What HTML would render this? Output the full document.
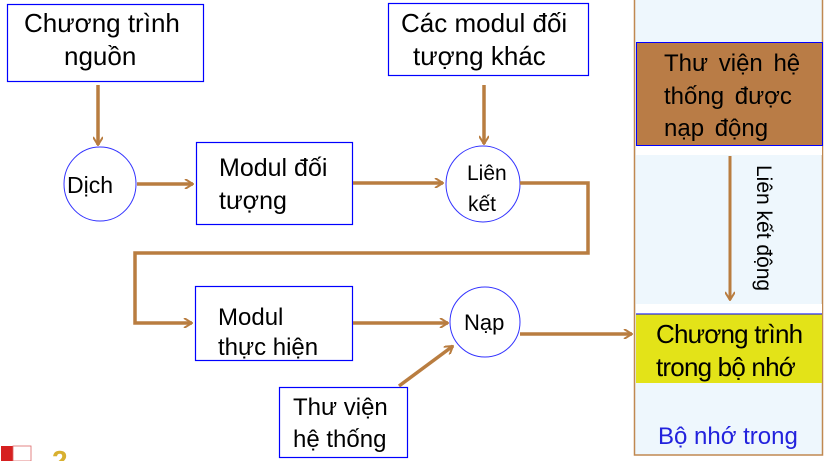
<!DOCTYPE html>
<html><head><meta charset="utf-8"><style>
html,body{margin:0;padding:0;background:#fff;}
svg{display:block;font-family:"Liberation Sans",sans-serif;}
</style></head><body>
<svg width="837" height="461" viewBox="0 0 837 461" xmlns="http://www.w3.org/2000/svg">
<defs>
<marker id="a" viewBox="0 0 10 10" refX="9" refY="5" markerWidth="10" markerHeight="10" markerUnits="userSpaceOnUse" orient="auto">
<path d="M1,0 L9,5 L1,10" fill="none" stroke="#b97d40" stroke-width="2"/>
</marker>
</defs>
<!-- right panel -->
<rect x="634.5" y="-2" width="188" height="457" fill="#eef7fd" stroke="#c08850" stroke-width="1.5"/>
<rect x="636" y="146" width="186" height="9" fill="#fff"/>
<rect x="636" y="304" width="186" height="9" fill="#fff"/>
<rect x="636.5" y="42.5" width="186" height="103" fill="#b97c46" stroke="#0000ff" stroke-width="1"/>
<text font-size="24" fill="#000" word-spacing="4"><tspan x="664" y="71">Thư viện hệ</tspan><tspan x="664" y="104">thống được</tspan><tspan x="664" y="136">nạp động</tspan></text>
<line x1="730" y1="156" x2="730" y2="300" stroke="#b97d40" stroke-width="3" marker-end="url(#a)"/>
<text font-size="21" transform="translate(757,165) rotate(90)">Liên kết động</text>
<rect x="636" y="314" width="186" height="69" fill="#e3e318"/>
<line x1="636" y1="314" x2="822" y2="314" stroke="#0000ff" stroke-width="1"/>
<text font-size="26" letter-spacing="-0.8"><tspan x="656" y="343">Chương trình</tspan><tspan x="656" y="376">trong bộ nhớ</tspan></text>
<text x="658" y="444" font-size="24" fill="#2222dd">Bộ nhớ trong</text>

<!-- boxes -->
<g fill="#fff" stroke="#0000ff" stroke-width="1.2">
<rect x="7.5" y="4.5" width="196" height="77"/>
<rect x="388.5" y="3.5" width="200" height="72"/>
<rect x="196.5" y="142.5" width="156" height="82"/>
<rect x="195.5" y="286.5" width="157" height="74"/>
<rect x="279.5" y="387.5" width="128" height="70"/>
</g>
<g fill="#fff" stroke="#3333ff" stroke-width="1">
<ellipse cx="100" cy="184" rx="36" ry="37"/>
<ellipse cx="483" cy="184" rx="37" ry="38"/>
<circle cx="485" cy="322" r="35"/>
</g>
<!-- connectors -->
<g stroke="#b97d40" stroke-width="3.5" fill="none">
<line x1="98" y1="85" x2="98" y2="145" marker-end="url(#a)"/>
<line x1="484" y1="85" x2="484" y2="144" marker-end="url(#a)"/>
<line x1="137" y1="184" x2="193" y2="184" marker-end="url(#a)"/>
<line x1="353" y1="183" x2="443" y2="183" marker-end="url(#a)"/>
<polyline points="520,183 588,183 588,253 135,253 135,323 192,323" marker-end="url(#a)"/>
<line x1="353" y1="323" x2="448" y2="323" marker-end="url(#a)"/>
<line x1="399" y1="386" x2="453" y2="346" marker-end="url(#a)"/>
<line x1="520" y1="334" x2="632" y2="334" marker-end="url(#a)"/>
</g>
<!-- labels -->
<g font-size="26" fill="#000">
<text><tspan x="24" y="32">Chương trình</tspan><tspan x="64" y="65">nguồn</tspan></text>
<text><tspan x="401" y="32">Các modul đối</tspan><tspan x="413" y="65">tượng khác</tspan></text>
<text font-size="25"><tspan x="219" y="176">Modul đối</tspan><tspan x="219" y="209">tượng</tspan></text>
</g>
<g font-size="24" fill="#000">
<text><tspan x="218" y="325">Modul</tspan><tspan x="218" y="355">thực hiện</tspan></text>
<text><tspan x="293" y="415">Thư viện</tspan><tspan x="293" y="447">hệ thống</tspan></text>
</g>
<g fill="#000">
<text x="67" y="193" font-size="23">Dịch</text>
<text x="467" y="180" font-size="21">Liên</text>
<text x="468" y="211" font-size="21">kết</text>
<text x="464" y="330" font-size="22">Nạp</text>
</g>
<!-- logos -->
<rect x="1" y="446" width="12" height="15" fill="#d62020"/>
<rect x="13" y="446" width="18" height="15" fill="#fff" stroke="#d66" stroke-width="0.8"/>
<text x="52" y="470" font-size="28" font-weight="bold" fill="#d8b030">2</text>
</svg>
</body></html>
